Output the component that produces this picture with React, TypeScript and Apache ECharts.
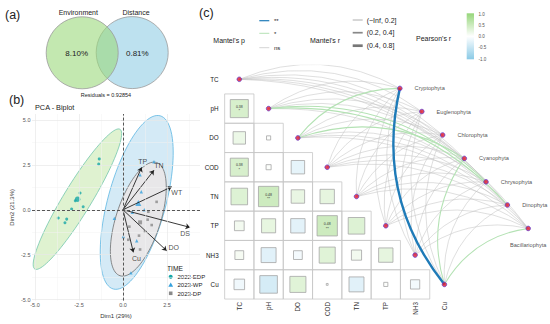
import React, { useEffect, useRef } from "react";
import * as echarts from "echarts";

const FONT = "'Liberation Sans', Arial, Helvetica, sans-serif";

// ---------- (a) Venn ----------
const vennSets = ["Environment", "Distance"];
const vennShares = ["8.10%", "0.81%"];
const vennResiduals = "0.92854";

// ---------- (b) PCA ----------
const pcaGroups = ["2022-EDP", "2023-WP", "2023-DP"];
const edpX = [-1.35, -1.38, -2.44, -2.71, -2.26, -2.92, -3.68, -3.2, -3.3];
const edpY = [2.83, 2.54, 0.93, 0.5, 0.17, 0.04, -0.46, -0.52, -0.72];
const wpX = [1.76, 0.97, 1.04, 1.21, 0.53, -0.49, 0.02, 0.45, 0.78];
const wpY = [2.67, 1.94, 1.0, 0.0, -0.14, -0.48, -1.49, -3.51, -1.72];
const dpX = [1.91, 1.4, 1.63, 0.91, 0.3, 0.97, 1.44, 1.25, 0.36];
const dpY = [0.44, -0.55, -0.85, -1.44, -1.67, -2.21, -0.11, -1.21, -0.94];
const centroidX = [-2.58, 0.87, 0.97];
const centroidY = [0.59, 0.37, -0.7];
// confidence ellipses: centre and two conjugate semi-axis vectors (data units)
const ellCx = [-2.59, 0.78, 0.87];
const ellCy = [0.59, 0.41, -0.52];
const ellUx = [2.42, 1.33, 1.04];
const ellUy = [3.89, 4.82, 3.15];
const ellWx = [0.68, 1.59, 1.2];
const ellWy = [-0.4, -0.42, -0.38];
const pcaVars = ["TP", "TN", "WT", "DS", "DO", "Cu"];
const loadX = [1.06, 1.76, 2.77, 3.81, 2.48, 0.59];
const loadY = [2.36, 2.2, 1.28, -0.98, -2.28, -2.37];
const pcaXTicks = [-5, -2.5, 0, 2.5];
const pcaYTicks = [-5, -2.5, 0, 2.5, 5];
const pcaXMinor = [-3.75, -1.25, 1.25, 3.75];
const pcaYMinor = [-3.75, -1.25, 1.25, 3.75];

// ---------- (c) Mantel ----------
const envVars = ["TC", "pH", "DO", "COD", "TN", "TP", "NH3", "Cu"];
const corrRows = [
  [],
  [0.38],
  [0.18, 0.02],
  [0.38, 0.03, -0.21],
  [0.32, 0.48, 0.21, 0.24],
  [0.11, 0.23, -0.24, 0.48, 0.32],
  [0.09, -0.26, -0.09, 0.3, 0.12, 0.24],
  [-0.13, -0.36, 0.3, 0.004, -0.26, 0.02, -0.1],
];
const corrSig = [
  [],
  ["*"],
  ["", ""],
  ["*", "", ""],
  ["", "**", "", ""],
  ["", "", "", "**", ""],
  ["", "", "", "", "", ""],
  ["", "", "", "", "", "", ""],
];
const phyla = ["Cryptophyta", "Euglenophyta", "Chlorophyta", "Cyanophyta", "Chrysophyta", "Dinophyta", "Bacillariophyta"];
const phylaX = [5.48, 6.23, 6.94, 7.68, 8.42, 9.15, 9.86];
const phylaY = [0.31, 1.1, 1.9, 2.7, 3.5, 4.29, 5.09];
// rows: phyla, columns: envVars
const mantelR = [
  [0.12, 0.15, 0.24, 0.1, 0.08, 0.11, 0.09, 0.52],
  [0.08, 0.1, 0.12, 0.06, 0.14, 0.09, 0.07, 0.11],
  [0.1, 0.13, 0.09, 0.12, 0.07, 0.1, 0.08, 0.13],
  [0.09, 0.11, 0.22, 0.08, 0.1, 0.12, 0.06, 0.26],
  [0.07, 0.25, 0.1, 0.09, 0.11, 0.08, 0.1, 0.12],
  [0.06, 0.23, 0.08, 0.11, 0.09, 0.07, 0.12, 0.1],
  [0.11, 0.09, 0.1, 0.13, 0.12, 0.15, 0.14, 0.28],
];
const mantelP = [
  [0.31, 0.22, 0.03, 0.41, 0.52, 0.36, 0.47, 0.004],
  [0.48, 0.39, 0.27, 0.61, 0.18, 0.44, 0.57, 0.33],
  [0.36, 0.24, 0.45, 0.29, 0.58, 0.37, 0.51, 0.21],
  [0.42, 0.33, 0.04, 0.55, 0.39, 0.26, 0.63, 0.03],
  [0.57, 0.02, 0.38, 0.46, 0.31, 0.52, 0.4, 0.28],
  [0.62, 0.04, 0.49, 0.35, 0.43, 0.58, 0.27, 0.39],
  [0.34, 0.47, 0.41, 0.23, 0.3, 0.19, 0.22, 0.02],
];
const mantelRLabels = ["(\u2212Inf, 0.2]", "(0.2, 0.4]", "(0.4, 0.8]"];
const mantelPLabels = ["**", "*", "ns"];
const pearsonTicks = ["1.0", "0.5", "0.0", "-0.5", "-1.0"];

// ---------- styles ----------
const grpColor = ["#17a6a6", "#35a1dd", "#8a8a8a"];
const ellFill = ["rgba(196,232,170,0.55)", "rgba(170,214,238,0.5)", "rgba(234,231,232,0.9)"];
const ellStroke = ["#74c6ad", "#5db6e2", "#6f6f6f"];
const POS = [150, 214, 122];
const NEG = [138, 202, 230];
const pColors = ["#1f7bb8", "#b4e2b4", "#c4c4c4"];
const rWidths = [0.55, 1.05, 2.4];

function corrColor(r: number) {
  const c = r >= 0 ? POS : NEG;
  const a = Math.min(1, Math.abs(r));
  const m = (k: number) => Math.round(255 + (c[k] - 255) * a);
  return `rgb(${m(0)},${m(1)},${m(2)})`;
}
const rgb = (c: number[]) => `rgb(${c[0]},${c[1]},${c[2]})`;

function txt(text: string, x: number, y: number, fontSize: number, align = "left", extra: any = {}) {
  return {
    type: "text",
    x,
    y,
    silent: true,
    style: { text, fontSize, fontFamily: FONT, fill: "#222", align, verticalAlign: "middle", ...extra },
  };
}

function buildOption(): any {
  // ---- cells
  const cells: any[] = [];
  const cellSig: string[] = [];
  corrRows.forEach((row, i) =>
    row.forEach((r, j) => {
      cells.push([j, i, r, cellSig.length]);
      cellSig.push(corrSig[i][j]);
    })
  );

  // ---- edges
  const edges: any[] = [];
  phyla.forEach((_, a) =>
    envVars.forEach((__, e) => {
      const p = mantelP[a][e];
      const r = mantelR[a][e];
      const pc = p < 0.01 ? 0 : p < 0.05 ? 1 : 2;
      const rc = r <= 0.2 ? 0 : r <= 0.4 ? 1 : 2;
      edges.push({ pc, rc, coords: [[e, e], [phylaX[a], phylaY[a]]] });
    })
  );
  edges.sort((m, n) => n.pc - m.pc);
  const edgeData = edges.map((d) => ({
    coords: d.coords,
    lineStyle: { color: pColors[d.pc], width: rWidths[d.rc], curveness: 0.24, opacity: 1 },
  }));

  const ellData = ellCx.map((_, g) => [ellCx[g], ellCy[g], ellUx[g], ellUy[g], ellWx[g], ellWy[g], g]);

  const gridMark = (vals: number[], axis: string, color: string, w: number) =>
    vals.map((v) => ({ [axis]: v, lineStyle: { color, width: w, type: "solid" } }));

  const labelOffsets: number[][] = [[1, -6], [5, -5], [5, 5.5], [-5, 6], [7, -3], [3, 6]];

  const graphic: any[] = [
    // Venn
    { type: "circle", shape: { cx: 132.2, cy: 52.6, r: 36 }, style: { fill: "#bde1ef", stroke: "#9a9a9a", lineWidth: 0.8 } },
    { type: "circle", shape: { cx: 82.2, cy: 52.8, r: 36 }, style: { fill: "rgba(155,217,123,0.6)", stroke: "#9a9a9a", lineWidth: 0.8 } },
    txt(vennSets[0], 78.3, 12.4, 7, "center"),
    txt(vennSets[1], 136, 12.2, 7, "center"),
    txt(vennShares[0], 76.7, 53.3, 8, "center"),
    txt(vennShares[1], 137.3, 53.3, 8, "center"),
    txt("Residuals = " + vennResiduals, 106, 95, 5.5, "center"),
    // panel labels
    txt("(a)", 5, 15, 12.5),
    txt("(b)", 9, 100, 12.5),
    txt("(c)", 199, 13, 12.5),
    // PCA title & legend
    txt("PCA - Biplot", 35, 107.7, 7.3),
    txt("TIME", 167, 268, 6.7),
    { type: "circle", shape: { cx: 170.7, cy: 276.7, r: 2 }, style: { fill: grpColor[0] } },
    { type: "polygon", shape: { points: [[170.7, 282.6], [168.3, 286.8], [173.1, 286.8]] }, style: { fill: grpColor[1] } },
    { type: "rect", shape: { x: 168.9, y: 291.5, width: 3.6, height: 3.6 }, style: { fill: grpColor[2] } },
    txt(pcaGroups[0], 177.5, 276.9, 6),
    txt(pcaGroups[1], 177.5, 285.2, 6),
    txt(pcaGroups[2], 177.5, 293.5, 6),
    // Mantel legend
    txt("Mantel's p", 213.3, 40.3, 7),
    { type: "line", shape: { x1: 259.3, y1: 20.7, x2: 269.3, y2: 20.7 }, style: { stroke: pColors[0], lineWidth: 1.2 } },
    { type: "line", shape: { x1: 259.3, y1: 33.3, x2: 269.3, y2: 33.3 }, style: { stroke: pColors[1], lineWidth: 1 } },
    { type: "line", shape: { x1: 259.3, y1: 47.7, x2: 269.3, y2: 47.7 }, style: { stroke: "#d4d4d4", lineWidth: 1 } },
    txt(mantelPLabels[0], 274, 21, 6),
    txt(mantelPLabels[1], 274, 33.6, 6),
    txt(mantelPLabels[2], 274, 47.7, 6),
    txt("Mantel's r", 310, 40.3, 7),
    { type: "line", shape: { x1: 352.7, y1: 20, x2: 362.7, y2: 20 }, style: { stroke: "#999", lineWidth: 0.8 } },
    { type: "line", shape: { x1: 352.7, y1: 32.7, x2: 362.7, y2: 32.7 }, style: { stroke: "#888", lineWidth: 1.7 } },
    { type: "line", shape: { x1: 352.7, y1: 45.7, x2: 362.7, y2: 45.7 }, style: { stroke: "#777", lineWidth: 2.7 } },
    txt(mantelRLabels[0], 366.7, 20, 7),
    txt(mantelRLabels[1], 366.7, 32.7, 7),
    txt(mantelRLabels[2], 366.7, 45.7, 7),
    txt("Pearson's r", 416, 38.3, 7),
    {
      type: "rect",
      shape: { x: 466.7, y: 13.3, width: 7.3, height: 46 },
      style: {
        fill: new echarts.graphic.LinearGradient(0, 0, 0, 1, [
          { offset: 0, color: rgb(POS) },
          { offset: 0.5, color: "#ffffff" },
          { offset: 1, color: rgb(NEG) },
        ]),
      },
    },
    ...pearsonTicks.map((t, k) => txt(t, 478.5, 14 + k * 11.33, 4.5, "left", { fill: "#555" })),
  ];

  return {
    animation: false,
    backgroundColor: "#ffffff",
    textStyle: { fontFamily: FONT },
    graphic,
    grid: [
      { left: 32, right: 350, top: 114, bottom: 22 },
      { left: 224.65, right: 3.05, top: 64.65, bottom: 24.95 },
    ],
    xAxis: [
      {
        type: "value",
        gridIndex: 0,
        min: -5.17,
        max: 4.375,
        axisLine: { show: false },
        axisTick: { show: true, customValues: pcaXTicks, length: 2, lineStyle: { color: "#999", width: 0.6 } },
        axisLabel: { customValues: pcaXTicks, formatter: (v: number) => v.toFixed(1), fontSize: 5.5, color: "#555", margin: 1.5 },
        splitLine: { show: false },
        name: "Dim1 (29%)",
        nameLocation: "middle",
        nameGap: 7.5,
        nameTextStyle: { fontSize: 6, color: "#333", fontFamily: FONT },
      },
      {
        type: "value",
        gridIndex: 1,
        min: -0.5,
        max: 10.5,
        axisLine: { show: false },
        axisTick: { show: false },
        axisLabel: {
          customValues: [0, 1, 2, 3, 4, 5, 6, 7],
          formatter: (v: number) => envVars[Math.round(v)],
          rotate: 90,
          fontSize: 6.3,
          color: "#333",
          margin: 3,
        },
        splitLine: { show: false },
      },
    ],
    yAxis: [
      {
        type: "value",
        gridIndex: 0,
        min: -5.055,
        max: 5.33,
        axisLine: { show: false },
        axisTick: { show: true, customValues: pcaYTicks, length: 2, lineStyle: { color: "#999", width: 0.6 } },
        axisLabel: { customValues: pcaYTicks, formatter: (v: number) => v.toFixed(1), fontSize: 5.5, color: "#555", margin: 1.5 },
        splitLine: { show: false },
        name: "Dim2 (21.3%)",
        nameLocation: "middle",
        nameRotate: 90,
        nameGap: 17,
        nameTextStyle: { fontSize: 6, color: "#333", fontFamily: FONT },
      },
      {
        type: "value",
        gridIndex: 1,
        inverse: true,
        min: -0.5,
        max: 7.5,
        axisLine: { show: false },
        axisTick: { show: false },
        axisLabel: {
          customValues: [0, 1, 2, 3, 4, 5, 6, 7],
          formatter: (v: number) => envVars[Math.round(v)],
          fontSize: 6.3,
          color: "#222",
          margin: 6,
        },
        splitLine: { show: false },
      },
    ],
    series: [
      // PCA grid lines
      {
        type: "scatter",
        xAxisIndex: 0,
        yAxisIndex: 0,
        data: [[0, 0]],
        symbolSize: 0,
        silent: true,
        z: 0,
        markLine: {
          silent: true,
          symbol: ["none", "none"],
          label: { show: false },
          data: [
            ...gridMark(pcaXMinor, "xAxis", "#f3f3f3", 0.5),
            ...gridMark(pcaYMinor, "yAxis", "#f3f3f3", 0.5),
            ...gridMark(pcaXTicks, "xAxis", "#e8e8e8", 0.7),
            ...gridMark(pcaYTicks, "yAxis", "#e8e8e8", 0.7),
          ],
        },
      },
      // ellipses
      {
        type: "custom",
        xAxisIndex: 0,
        yAxisIndex: 0,
        z: 1,
        silent: true,
        data: ellData,
        encode: { x: 0, y: 1 },
        renderItem: (params: any, api: any) => {
          const cx = api.value(0), cy = api.value(1), ux = api.value(2), uy = api.value(3), wx = api.value(4), wy = api.value(5);
          const g = api.value(6);
          const pts: number[][] = [];
          for (let k = 0; k <= 96; k++) {
            const t = (k / 96) * Math.PI * 2;
            pts.push(api.coord([cx + ux * Math.cos(t) + wx * Math.sin(t), cy + uy * Math.cos(t) + wy * Math.sin(t)]));
          }
          return { type: "polygon", shape: { points: pts }, style: { fill: ellFill[g], stroke: ellStroke[g], lineWidth: 0.8 } };
        },
      },
      // zero dashed lines
      {
        type: "scatter",
        xAxisIndex: 0,
        yAxisIndex: 0,
        data: [[0, 0]],
        symbolSize: 0,
        silent: true,
        z: 2,
        markLine: {
          silent: true,
          symbol: ["none", "none"],
          label: { show: false },
          lineStyle: { color: "#444", width: 0.9, type: [3, 2] },
          data: [{ xAxis: 0 }, { yAxis: 0 }],
        },
      },
      // points
      {
        type: "scatter", name: pcaGroups[0], xAxisIndex: 0, yAxisIndex: 0, z: 3,
        symbol: "circle", symbolSize: 3, itemStyle: { color: grpColor[0] },
        data: edpX.map((x, k) => [x, edpY[k]]),
      },
      {
        type: "scatter", name: pcaGroups[1], xAxisIndex: 0, yAxisIndex: 0, z: 3,
        symbol: "triangle", symbolSize: 3.4, itemStyle: { color: grpColor[1] },
        data: wpX.map((x, k) => [x, wpY[k]]),
      },
      {
        type: "scatter", name: pcaGroups[2], xAxisIndex: 0, yAxisIndex: 0, z: 3,
        symbol: "rect", symbolSize: 2.6, itemStyle: { color: grpColor[2] },
        data: dpX.map((x, k) => [x, dpY[k]]),
      },
      {
        type: "scatter", name: "centroids", xAxisIndex: 0, yAxisIndex: 0, z: 3,
        data: centroidX.map((x, k) => ({
          value: [x, centroidY[k]],
          symbol: ["circle", "triangle", "rect"][k],
          symbolSize: [5.5, 6, 4][k],
          itemStyle: { color: grpColor[k] },
        })),
      },
      // arrows
      {
        type: "lines",
        coordinateSystem: "cartesian2d",
        xAxisIndex: 0,
        yAxisIndex: 0,
        z: 4,
        silent: true,
        symbol: ["none", "arrow"],
        symbolSize: 4.5,
        lineStyle: { color: "#222", width: 0.9, opacity: 1 },
        data: loadX.map((x, k) => ({ coords: [[0, 0], [x, loadY[k]]] })),
      },
      {
        type: "scatter",
        xAxisIndex: 0,
        yAxisIndex: 0,
        z: 5,
        symbolSize: 0,
        silent: true,
        data: loadX.map((x, k) => ({
          value: [x, loadY[k]],
          name: pcaVars[k],
          label: {
            show: true,
            position: "inside",
            offset: labelOffsets[k],
            formatter: pcaVars[k],
            fontSize: 7,
            color: "#222",
            fontFamily: FONT,
          },
        })),
      },
      // correlation cells
      {
        type: "custom",
        xAxisIndex: 1,
        yAxisIndex: 1,
        z: 2,
        silent: true,
        data: cells,
        encode: { x: 0, y: 1 },
        renderItem: (params: any, api: any) => {
          const j = api.value(0), i = api.value(1), r = api.value(2), k = api.value(3);
          const c = api.coord([j, i]);
          const sz = api.size([1, 1]);
          const w = sz[0], h = sz[1];
          const s = Math.sqrt(Math.abs(r)) * w;
          const children: any[] = [
            { type: "rect", shape: { x: c[0] - w / 2, y: c[1] - h / 2, width: w, height: h }, style: { fill: "none", stroke: "#c6c6c6", lineWidth: 0.8 } },
            { type: "rect", shape: { x: c[0] - s / 2, y: c[1] - s / 2, width: s, height: s }, style: { fill: corrColor(r), stroke: "#a6a6a6", lineWidth: 0.8 } },
          ];
          const sig = cellSig[k];
          if (sig) {
            children.push({ type: "text", style: { text: r.toFixed(2), x: c[0], y: c[1] - 1.8, fontSize: 3.5, fill: "#333", align: "center", verticalAlign: "middle", fontFamily: FONT } });
            children.push({ type: "text", style: { text: sig, x: c[0], y: c[1] + 2.2, fontSize: 4, fill: "#333", align: "center", verticalAlign: "middle", fontFamily: FONT } });
          }
          return { type: "group", children };
        },
      },
      // Mantel edges
      {
        type: "lines",
        coordinateSystem: "cartesian2d",
        xAxisIndex: 1,
        yAxisIndex: 1,
        z: 3,
        silent: true,
        symbol: ["none", "none"],
        lineStyle: { curveness: 0.24 },
        data: edgeData,
      },
      // environment nodes
      {
        type: "scatter",
        xAxisIndex: 1,
        yAxisIndex: 1,
        z: 5,
        silent: true,
        symbolSize: 4.6,
        itemStyle: { color: "#e0182d", borderColor: "#5a3fd6", borderWidth: 0.9 },
        data: envVars.map((_, e) => [e, e]),
      },
      // phyla nodes
      {
        type: "scatter",
        xAxisIndex: 1,
        yAxisIndex: 1,
        z: 5,
        silent: true,
        symbolSize: 4.6,
        itemStyle: { color: "#e0182d", borderColor: "#5a3fd6", borderWidth: 0.9 },
        data: phyla.map((ph, a) => ({
          value: [phylaX[a], phylaY[a]],
          label: {
            show: true,
            formatter: ph,
            position: a === phyla.length - 1 ? "bottom" : "right",
            distance: a === phyla.length - 1 ? 11 : 12,
            fontSize: 5.6,
            color: "#222",
            fontFamily: FONT,
          },
        })),
      },
    ],
  };
}

export default function App() {
  const ref = useRef<HTMLDivElement>(null);
  useEffect(() => {
    if (!ref.current) return;
    const chart = echarts.init(ref.current, null, { renderer: "svg" });
    chart.setOption(buildOption());
    return () => chart.dispose();
  }, []);
  return (
    <div
      ref={ref}
      style={{ position: "absolute", left: 0, top: 0, width: 550, height: 324, background: "#fff" }}
    />
  );
}
